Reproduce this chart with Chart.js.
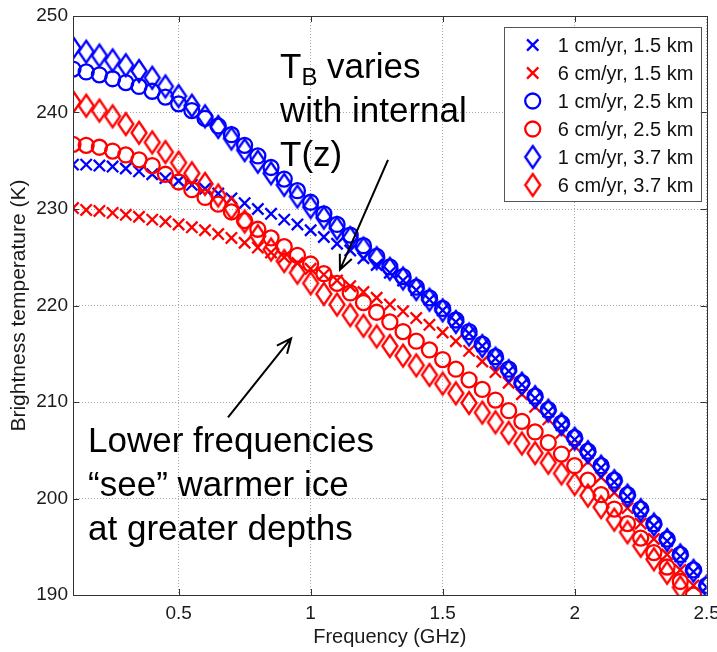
<!DOCTYPE html>
<html>
<head>
<meta charset="utf-8">
<script src="https://cdn.jsdelivr.net/npm/chart.js@4.4.0/dist/chart.umd.min.js"></script>
<style>
  html, body { margin: 0; padding: 0; background: #fff; }
  canvas { display: block; }
</style>
</head>
<body>
<canvas id="tbChart" width="717" height="652"></canvas>
<script>
// frequency grid (GHz) and brightness temperatures (K)
const freq = [0.1, 0.15, 0.2, 0.25, 0.3, 0.35, 0.4, 0.45, 0.5, 0.55, 0.6, 0.65, 0.7, 0.75, 0.8, 0.85, 0.9, 0.95,
  1, 1.05, 1.1, 1.15, 1.2, 1.25, 1.3, 1.35, 1.4, 1.45, 1.5, 1.55, 1.6, 1.65, 1.7, 1.75, 1.8, 1.85, 1.9, 1.95,
  2, 2.05, 2.1, 2.15, 2.2, 2.25, 2.3, 2.35, 2.4, 2.45, 2.5];

const tb1cm15km = [234.6, 234.6, 234.5, 234.4, 234.2, 233.9, 233.6, 233.2, 232.9, 232.5,
  232.1, 231.6, 231.1, 230.6, 230.0, 229.5, 228.9, 228.4, 227.8, 227.1,
  226.4, 225.7, 224.9, 224.2, 223.4, 222.6, 221.6, 220.6, 219.5, 218.3,
  217.1, 215.8, 214.5, 213.2, 211.8, 210.4, 209.0, 207.6, 206.1, 204.7,
  203.2, 201.7, 200.2, 198.7, 197.2, 195.6, 194.0, 192.4, 190.8];
const tb6cm15km = [230.1, 229.9, 229.8, 229.6, 229.4, 229.2, 228.9, 228.7, 228.4, 228.1,
  227.8, 227.4, 227.0, 226.5, 226.0, 225.5, 225.0, 224.4, 223.8, 223.2,
  222.6, 222.0, 221.4, 220.8, 220.1, 219.4, 218.7, 218.0, 217.2, 216.3,
  215.3, 214.2, 213.1, 212.0, 210.8, 209.5, 208.2, 206.8, 205.4, 203.8,
  202.2, 200.6, 199.0, 197.4, 195.8, 194.2, 192.6, 191.0, null];
const tb1cm25km = [244.5, 244.2, 243.9, 243.5, 243.1, 242.7, 242.2, 241.6, 240.9, 240.2,
  239.4, 238.6, 237.7, 236.6, 235.5, 234.3, 233.1, 231.9, 230.7, 229.5,
  228.4, 227.3, 226.2, 225.1, 224.0, 223.0, 221.9, 220.8, 219.7, 218.5,
  217.3, 216.0, 214.7, 213.4, 212.0, 210.6, 209.2, 207.8, 206.3, 204.9,
  203.4, 201.9, 200.4, 198.9, 197.4, 195.8, 194.2, 192.6, 191.0];
const tb6cm25km = [236.7, 236.6, 236.4, 236.0, 235.6, 235.1, 234.5, 233.6, 232.8, 232.0,
  231.2, 230.5, 229.7, 228.8, 227.9, 227.0, 226.1, 225.2, 224.3, 223.3,
  222.3, 221.3, 220.3, 219.3, 218.3, 217.3, 216.3, 215.4, 214.4, 213.4,
  212.3, 211.3, 210.2, 209.1, 208.0, 206.9, 205.8, 204.6, 203.4, 201.9,
  200.4, 198.9, 197.4, 195.9, 194.4, 192.9, 191.4, 190.0, null];
const tb1cm37km = [246.7, 246.3, 245.9, 245.4, 244.9, 244.3, 243.6, 242.7, 241.7, 240.7,
  239.6, 238.5, 237.3, 236.1, 234.9, 233.7, 232.5, 231.3, 230.2, 229.1,
  228.0, 227.0, 225.9, 224.9, 223.8, 222.8, 221.7, 220.6, 219.5, 218.3,
  217.0, 215.8, 214.5, 213.2, 211.9, 210.5, 209.1, 207.7, 206.2, 204.8,
  203.3, 201.8, 200.3, 198.8, 197.3, 195.7, 194.1, 192.5, 190.9];
const tb6cm37km = [241.1, 240.7, 240.2, 239.6, 238.8, 237.9, 236.9, 235.9, 234.8, 233.7,
  232.6, 231.4, 230.1, 228.7, 227.2, 225.8, 224.6, 223.4, 222.3, 221.2,
  220.1, 219.0, 217.9, 216.8, 215.8, 214.8, 213.8, 212.8, 211.9, 210.9,
  209.9, 208.9, 207.9, 206.8, 205.7, 204.7, 203.7, 202.6, 201.5, 200.3,
  199.1, 197.8, 196.5, 195.1, 193.7, 192.3, 190.8, null, null];

const seriesNames = ['1 cm/yr, 1.5 km', '6 cm/yr, 1.5 km', '1 cm/yr, 2.5 km',
  '6 cm/yr, 2.5 km', '1 cm/yr, 3.7 km', '6 cm/yr, 3.7 km'];
const xTicks = [0.5, 1, 1.5, 2, 2.5];
const yTicks = [190, 200, 210, 220, 230, 240, 250];

// annotation anchors in data units (freq, K)
const noteTop = { at: [0.884, 243.6], lines: ['varies', 'with internal', 'T(z)'] };
const noteLow = { at: [0.157, 204.8], lines: ['Lower frequencies', '\u201csee\u201d warmer ice', 'at greater depths'] };
const arrows = [
  { from: [1.293, 235.1], to: [1.111, 223.7] },
  { from: [0.687, 208.4], to: [0.926, 216.6] }
];

const FONT = '"Liberation Sans", Arial, Helvetica, sans-serif';
const BLUE = '#0000ff', RED = '#ff0000';
const MARK_LW = 2.3;

// matlab style diamond is taller than wide
function diamond(color) {
  const c = document.createElement('canvas');
  c.width = 22; c.height = 28;
  const g = c.getContext('2d');
  g.strokeStyle = color; g.lineWidth = MARK_LW;
  g.beginPath();
  g.moveTo(11, 3); g.lineTo(18.5, 14); g.lineTo(11, 25); g.lineTo(3.5, 14);
  g.closePath(); g.stroke();
  return c;
}

function series(i, vals, color, style) {
  const radius = style === 'crossRot' ? 8 : 7.5;
  return {
    label: seriesNames[i],
    data: freq.map((f, k) => ({ x: f, y: vals[k] })),
    showLine: false,
    order: 5 - i,               // later series drawn on top, like matlab
    pointStyle: style === 'diamond' ? diamond(color) : style,
    pointRadius: radius,
    pointHoverRadius: radius,
    pointBorderWidth: MARK_LW,
    pointBorderColor: color,
    pointBackgroundColor: 'rgba(0,0,0,0)',
    borderColor: color,
    markerKind: style
  };
}

function drawMarker(ctx, ds, x, y) {
  ctx.save();
  ctx.strokeStyle = ds.pointBorderColor;
  ctx.lineWidth = MARK_LW;
  if (ds.markerKind === 'diamond') {
    const img = ds.pointStyle;
    ctx.drawImage(img, x - img.width / 2, y - img.height / 2);
  } else if (ds.markerKind === 'circle') {
    ctx.beginPath(); ctx.arc(x, y, ds.pointRadius, 0, Math.PI * 2); ctx.stroke();
  } else {
    const d = ds.pointRadius * Math.SQRT1_2;
    ctx.beginPath();
    ctx.moveTo(x - d, y - d); ctx.lineTo(x + d, y + d);
    ctx.moveTo(x + d, y - d); ctx.lineTo(x - d, y + d);
    ctx.stroke();
  }
  ctx.restore();
}

function arrow(ctx, x1, y1, x2, y2) {
  const ang = Math.atan2(y2 - y1, x2 - x1), L = 16, spread = 0.42;
  ctx.beginPath();
  ctx.moveTo(x1, y1); ctx.lineTo(x2, y2);
  ctx.moveTo(x2 - L * Math.cos(ang - spread), y2 - L * Math.sin(ang - spread));
  ctx.lineTo(x2, y2);
  ctx.lineTo(x2 - L * Math.cos(ang + spread), y2 - L * Math.sin(ang + spread));
  ctx.stroke();
}

const overlay = {
  id: 'overlay',
  afterDraw(chart) {
    const { ctx, chartArea: a, scales: { x, y } } = chart;
    ctx.save();

    // axes box + inward ticks
    ctx.strokeStyle = '#333';
    ctx.lineWidth = 1;
    ctx.strokeRect(Math.round(a.left) + 0.5, Math.round(a.top) + 0.5,
      Math.round(a.right - a.left), Math.round(a.bottom - a.top));
    ctx.beginPath();
    xTicks.forEach(v => {
      const px = Math.round(x.getPixelForValue(v)) + 0.5;
      ctx.moveTo(px, a.bottom); ctx.lineTo(px, a.bottom - 6);
      ctx.moveTo(px, a.top); ctx.lineTo(px, a.top + 6);
    });
    yTicks.forEach(v => {
      const py = Math.round(y.getPixelForValue(v)) + 0.5;
      ctx.moveTo(a.left, py); ctx.lineTo(a.left + 6, py);
      ctx.moveTo(a.right, py); ctx.lineTo(a.right - 6, py);
    });
    ctx.stroke();

    // annotations
    ctx.fillStyle = '#000';
    ctx.textBaseline = 'alphabetic';
    ctx.textAlign = 'left';
    const big = '35px ' + FONT, sub = '24px ' + FONT, lineGap = 44;

    let tx = x.getPixelForValue(noteTop.at[0]), ty = y.getPixelForValue(noteTop.at[1]);
    ctx.font = big;
    ctx.fillText('T', tx, ty);
    let w = ctx.measureText('T').width;
    ctx.font = sub;
    ctx.fillText('B', tx + w, ty + 7);
    w += ctx.measureText('B').width;
    ctx.font = big;
    ctx.fillText(' ' + noteTop.lines[0], tx + w, ty);
    ctx.fillText(noteTop.lines[1], tx, ty + lineGap);
    ctx.fillText(noteTop.lines[2], tx, ty + lineGap * 2);

    tx = x.getPixelForValue(noteLow.at[0]); ty = y.getPixelForValue(noteLow.at[1]);
    noteLow.lines.forEach((t, i) => ctx.fillText(t, tx, ty + lineGap * i));

    ctx.strokeStyle = '#000';
    ctx.lineWidth = 2;
    arrows.forEach(r => arrow(ctx,
      x.getPixelForValue(r.from[0]), y.getPixelForValue(r.from[1]),
      x.getPixelForValue(r.to[0]), y.getPixelForValue(r.to[1])));

    // legend box, top right inside the axes
    const lw = 197, rowH = 28;
    const lx = a.right - 6 - lw, ly = a.top + 11;
    const lh = 18 + rowH * (seriesNames.length - 1) + 16;
    ctx.fillStyle = '#fff';
    ctx.fillRect(lx, ly, lw, lh);
    ctx.strokeStyle = '#555';
    ctx.lineWidth = 1;
    ctx.strokeRect(Math.round(lx) + 0.5, Math.round(ly) + 0.5, lw, lh);
    ctx.font = '20px ' + FONT;
    ctx.fillStyle = '#111';
    ctx.textBaseline = 'middle';
    chart.data.datasets.forEach((ds, i) => {
      const ry = ly + 18 + rowH * i;
      drawMarker(ctx, ds, lx + 29, ry);
      ctx.fillText(ds.label, lx + 54, ry + 1);
    });

    ctx.restore();
  }
};

const axisFont = { family: FONT, size: 19 };

new Chart(document.getElementById('tbChart'), {
  type: 'scatter',
  data: {
    datasets: [
      series(0, tb1cm15km, BLUE, 'crossRot'),
      series(1, tb6cm15km, RED, 'crossRot'),
      series(2, tb1cm25km, BLUE, 'circle'),
      series(3, tb6cm25km, RED, 'circle'),
      series(4, tb1cm37km, BLUE, 'diamond'),
      series(5, tb6cm37km, RED, 'diamond')
    ]
  },
  options: {
    responsive: false,
    animation: false,
    events: [],
    layout: { padding: { top: 16, right: 10, left: 0, bottom: 0 } },
    plugins: { legend: { display: false }, tooltip: { enabled: false } },
    scales: {
      x: {
        type: 'linear', min: 0.1, max: 2.5,
        afterBuildTicks: s => { s.ticks = xTicks.map(v => ({ value: v })); },
        afterFit: s => { s.height = 57; s.paddingLeft = 0; s.paddingRight = 0; },
        ticks: { color: '#1a1a1a', font: axisFont, padding: 7, maxRotation: 0, autoSkip: false, callback: v => String(v) },
        grid: { color: '#a8a8a8', lineWidth: 1, drawTicks: false },
        border: { display: false, dash: [1, 2] },
        title: { display: true, text: 'Frequency (GHz)', color: '#1a1a1a', font: { family: FONT, size: 20 }, padding: { top: 0, bottom: 3 } }
      },
      y: {
        type: 'linear', min: 190, max: 250,
        afterBuildTicks: s => { s.ticks = yTicks.map(v => ({ value: v })); },
        afterFit: s => { s.width = 73; s.paddingTop = 0; s.paddingBottom = 0; },
        ticks: { color: '#1a1a1a', font: axisFont, padding: 5, autoSkip: false },
        grid: { color: '#a8a8a8', lineWidth: 1, drawTicks: false },
        border: { display: false, dash: [1, 2] },
        title: { display: true, text: 'Brightness temperature (K)', color: '#1a1a1a', font: { family: FONT, size: 21 }, padding: { top: 7, bottom: 0 } }
      }
    }
  },
  plugins: [overlay]
});
</script>
</body>
</html>
